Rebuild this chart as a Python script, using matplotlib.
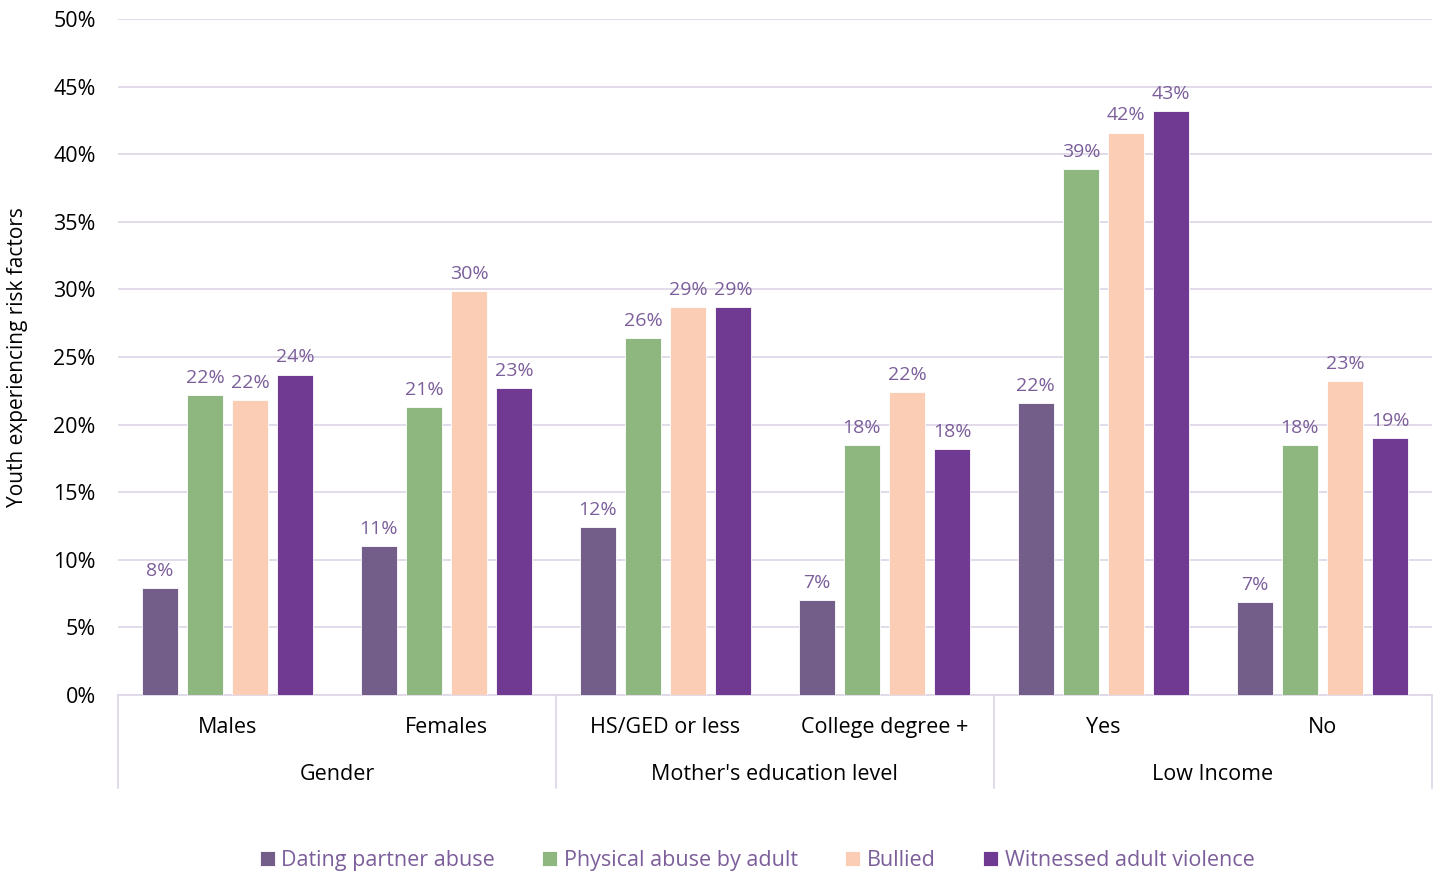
import matplotlib
matplotlib.use("Agg")
from matplotlib import pyplot as plt
from matplotlib.ticker import FuncFormatter
import numpy as np

plt.rcParams['font.family'] = ['Open Sans', 'DejaVu Sans']

categories = ["Males", "Females", "HS/GED or less", "College degree +", "Yes", "No"]
groups = ["Gender", "Mother's education level", "Low Income"]
series = ["Dating partner abuse", "Physical abuse by adult", "Bullied", "Witnessed adult violence"]
colors = ["#725E88", "#8DB77F", "#FACDB4", "#703A93"]

dating = [7.9, 11.0, 12.4, 7.0, 21.6, 6.9]
physical = [22.2, 21.3, 26.4, 18.5, 38.9, 18.5]
bullied = [21.8, 29.9, 28.7, 22.4, 41.6, 23.2]
witnessed = [23.7, 22.7, 28.7, 18.2, 43.2, 19.0]
values = [dating, physical, bullied, witnessed]

label_color = "#7B5E9A"
grid_color = "#DDD6E6"

fig = plt.figure(figsize=(14.42, 8.74), dpi=100)
ax = fig.add_axes([0.0818, 0.2048, 0.9112, 0.7735])

x = np.arange(len(categories))
width = 0.165
step = 0.206
for i, (name, vals, c) in enumerate(zip(series, values, colors)):
    pos = x + (i - 1.5) * step
    bars = ax.bar(pos, vals, width, color=c, label=name, zorder=3,
                  edgecolor="white", linewidth=0.6)
    for b, v in zip(bars, vals):
        ax.text(b.get_x() + b.get_width() / 2, v + 0.6, f"{round(v):.0f}%",
                ha="center", va="bottom", fontsize=14, color=label_color)

ax.set_xlim(-0.5, 5.5)
ax.set_ylim(0, 50)
ax.set_yticks(np.arange(0, 51, 5))
ax.yaxis.set_major_formatter(FuncFormatter(lambda v, p: f"{v:.0f}%"))
ax.tick_params(axis="y", length=0, labelsize=15.5, pad=16)
ax.set_xticks([])
ax.grid(axis="y", color=grid_color, linewidth=1.2, zorder=0)
for s in ["top", "right", "left"]:
    ax.spines[s].set_visible(False)
ax.spines["bottom"].set_color(grid_color)
ax.spines["bottom"].set_linewidth(1.2)
ax.set_ylabel("Youth experiencing risk factors", fontsize=15, labelpad=18)

# category and group labels below the axis
tr = ax.get_xaxis_transform()
for xi, cat in zip(x, categories):
    ax.text(xi, -0.048, cat, transform=tr, ha="center", va="center", fontsize=15.5)
for gi, g in enumerate(groups):
    ax.text(gi * 2 + 0.5, -0.117, g, transform=tr, ha="center", va="center", fontsize=15.5)
for xs in [-0.5, 1.5, 3.5, 5.5]:
    ax.plot([xs, xs], [0, -0.138], transform=tr, color=grid_color, linewidth=1.2,
            clip_on=False)

leg = fig.legend(loc="center", bbox_to_anchor=(0.525, 0.015), ncol=4, frameon=False,
                 fontsize=15.5, handlelength=0.7, handleheight=0.7, handletextpad=0.3,
                 columnspacing=2.2)
for t in leg.get_texts():
    t.set_color(label_color)

fig.savefig("out.png", dpi=100)
